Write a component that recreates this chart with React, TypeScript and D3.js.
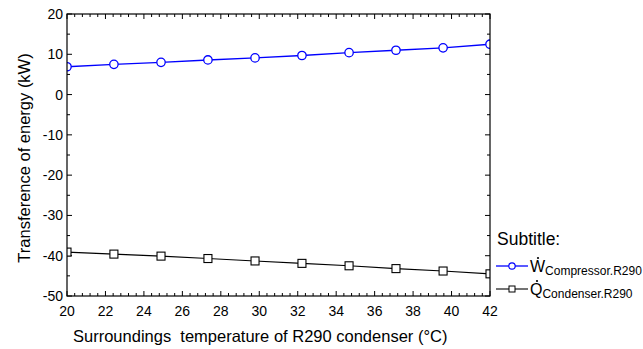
import React from "react";
import * as d3 from "d3";

const temps = [20, 22.44, 24.89, 27.33, 29.78, 32.22, 34.67, 37.11, 39.56, 42];
const compressorW = [6.9, 7.5, 8.0, 8.6, 9.1, 9.7, 10.4, 11.0, 11.6, 12.5];
const condenserQ = [-39.1, -39.6, -40.1, -40.7, -41.3, -41.9, -42.5, -43.2, -43.8, -44.5];
const xTickValues = [20, 22, 24, 26, 28, 30, 32, 34, 36, 38, 40, 42];
const yTickValues = [20, 10, 0, -10, -20, -30, -40, -50];

const W = 643, H = 349;
const L = 67, R = 490, T = 14, B = 296;
const FONT = "'Liberation Sans', Arial, sans-serif";

export default function App() {
  const x = d3.scaleLinear().domain([20, 42]).range([L, R]);
  const y = d3.scaleLinear().domain([-50, 20]).range([B, T]);
  const line = d3.line<number>().x((_, i) => x(temps[i])).y((d) => y(d));

  const xMinor = d3.range(0, 56).map((i) => 20 + i * 0.4).filter((v) => v <= 42.001);
  const yMinor = d3.range(-50, 20.001, 5);

  return (
    <svg width={W} height={H} style={{ position: "absolute", left: 0, top: 0, fontFamily: FONT }}>
      <defs>
        <clipPath id="plot">
          <rect x={L} y={T} width={R - L} height={B - T} />
        </clipPath>
      </defs>
      <rect x={0} y={0} width={W} height={H} fill="#fff" />
      {xMinor.map((v, i) => {
        const major = Math.abs((v - 20) / 2 - Math.round((v - 20) / 2)) < 0.01;
        const len = major ? 5 : 3;
        return (
          <g key={"xm" + i} stroke="#000" strokeWidth={1}>
            <line x1={x(v)} x2={x(v)} y1={B} y2={B - len} />
            <line x1={x(v)} x2={x(v)} y1={T} y2={T + len} />
          </g>
        );
      })}
      {yMinor.map((v, i) => {
        const major = Math.abs(v % 10) < 0.01;
        const len = major ? 5 : 3;
        return (
          <g key={"ym" + i} stroke="#000" strokeWidth={1}>
            <line x1={L} x2={L + len} y1={y(v)} y2={y(v)} />
            <line x1={R} x2={R - len} y1={y(v)} y2={y(v)} />
          </g>
        );
      })}
      {xTickValues.map((v) => (
        <text key={"xt" + v} x={x(v)} y={316} fontSize={14} textAnchor="middle" fill="#000">
          {v}
        </text>
      ))}
      {yTickValues.map((v) => (
        <text key={"yt" + v} x={63} y={y(v) + 5} fontSize={14} textAnchor="end" fill="#000">
          {v}
        </text>
      ))}
      <g clipPath="url(#plot)">
        <path d={line(compressorW) || ""} fill="none" stroke="#0000ff" strokeWidth={1.4} />
        <path d={line(condenserQ) || ""} fill="none" stroke="#000" strokeWidth={1.1} />
        {compressorW.map((v, i) => (
          <circle key={"c" + i} cx={x(temps[i])} cy={y(v)} r={4.2} fill="#fff" stroke="#0000ff" strokeWidth={1.3} />
        ))}
        {condenserQ.map((v, i) => (
          <rect key={"s" + i} x={x(temps[i]) - 4} y={y(v) - 4} width={8} height={8} fill="#fff" stroke="#000" strokeWidth={1.1} />
        ))}
      </g>
      <rect x={L} y={T} width={R - L} height={B - T} fill="none" stroke="#000" strokeWidth={1.2} />
      <text x={73} y={342} fontSize={16.5} fill="#000">
        Surroundings{"\u00a0"} temperature of R290 condenser (°C)
      </text>
      <text transform="translate(30,158) rotate(-90)" fontSize={16.5} textAnchor="middle" fill="#000">
        Transference of energy (kW)
      </text>
      <text x={497} y={245} fontSize={17.5} fill="#000">Subtitle:</text>
      <line x1={496} x2={528} y1={266} y2={266} stroke="#0000ff" strokeWidth={1.3} />
      <circle cx={512} cy={266} r={3.2} fill="#fff" stroke="#0000ff" strokeWidth={1.2} />
      <circle cx={538} cy={258} r={1.1} fill="#000" />
      <text x={530} y={272} fontSize={16} fill="#000">
        W<tspan fontSize={12} dy={3}>Compressor.R290</tspan>
      </text>
      <line x1={496} x2={528} y1={289} y2={289} stroke="#000" strokeWidth={1.1} />
      <rect x={509} y={286} width={6} height={6} fill="#fff" stroke="#000" strokeWidth={1} />
      <circle cx={537} cy={281} r={1.1} fill="#000" />
      <text x={530} y={295} fontSize={16} fill="#000">
        Q<tspan fontSize={12} dy={3}>Condenser.R290</tspan>
      </text>
    </svg>
  );
}
